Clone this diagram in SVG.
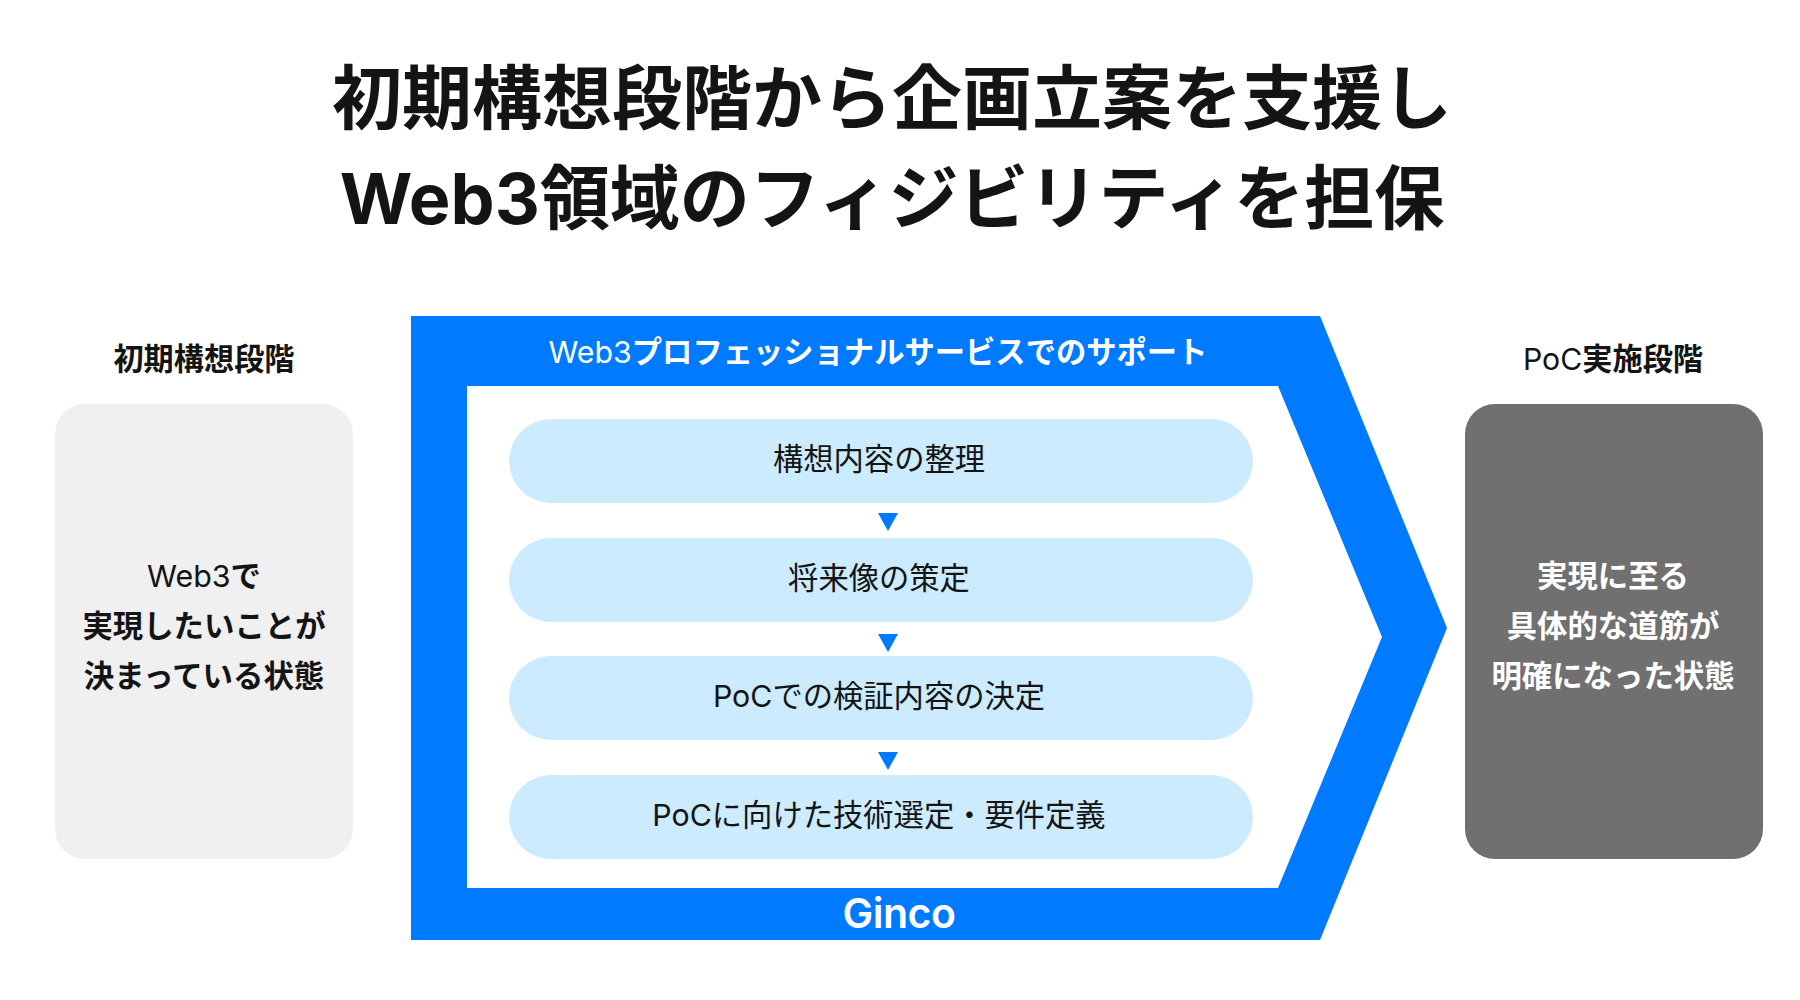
<svg xmlns="http://www.w3.org/2000/svg" width="1800" height="1000" viewBox="0 0 1800 1000">
<style>
text{font-family:"Inter","Noto Sans CJK JP","Liberation Sans",sans-serif;text-anchor:middle}
.title{font-size:70px;font-weight:700;fill:#141414}
.head{font-size:30.2px;font-weight:700;fill:#141414}
.body{font-size:30.4px;font-weight:700;fill:#141414}
.lat{font-weight:400}
.pill{fill:#CCEBFF}
.step{font-size:30.3px;font-weight:400;fill:#141414}
.tri{fill:#007AFF}
</style>
<rect width="1800" height="1000" fill="#fff"/>
<g id="title">
<text class="title" x="892" y="124">初期構想段階から企画立案を支援し</text>
<text class="title" x="892" y="224">Web3領域のフィジビリティを担保</text>
</g>
<g id="before">
<text class="head" x="204" y="370">初期構想段階</text>
<rect x="55" y="404" width="298" height="455" rx="30" fill="#F0F0F0"/>
<text class="body" x="204" y="587"><tspan class="lat">Web3</tspan>で</text>
<text class="body" x="204" y="637">実現したいことが</text>
<text class="body" x="204" y="687">決まっている状態</text>
</g>
<g id="support">
<path d="M411 316H1320L1447 628L1320 940H411ZM467 386V888H1278L1382 637L1278 386Z" fill="#007AFF" fill-rule="evenodd"/>
<text x="878" y="363" font-size="30.3" font-weight="700" fill="#fff"><tspan class="lat">Web3</tspan>プロフェッショナルサービスでのサポート</text>
<text x="899" y="928" font-size="41" font-weight="600" fill="#fff" letter-spacing="-0.5">Ginco</text>
</g>
<g id="step1"><rect class="pill" x="509" y="419" width="744" height="84" rx="42"/><text class="step" x="879" y="470">構想内容の整理</text></g>
<g id="step2"><rect class="pill" x="509" y="538" width="744" height="84" rx="42"/><text class="step" x="879" y="589">将来像の策定</text></g>
<g id="step3"><rect class="pill" x="509" y="656" width="744" height="84" rx="42"/><text class="step" x="879" y="707">PoCでの検証内容の決定</text></g>
<g id="step4"><rect class="pill" x="509" y="775" width="744" height="84" rx="42"/><text class="step" x="879" y="826">PoCに向けた技術選定・要件定義</text></g>
<g id="connectors">
<path class="tri" d="M878 513H898L888 531Z"/>
<path class="tri" d="M878 634H898L888 652Z"/>
<path class="tri" d="M878 752H898L888 770Z"/>
</g>
<g id="after">
<text class="head" x="1613" y="370"><tspan class="lat">PoC</tspan>実施段階</text>
<rect x="1465" y="404" width="298" height="455" rx="30" fill="#707070"/>
<text class="body" x="1613" y="587" style="fill:#fff">実現に至る</text>
<text class="body" x="1613" y="637" style="fill:#fff">具体的な道筋が</text>
<text class="body" x="1613" y="687" style="fill:#fff">明確になった状態</text>
</g>
</svg>
